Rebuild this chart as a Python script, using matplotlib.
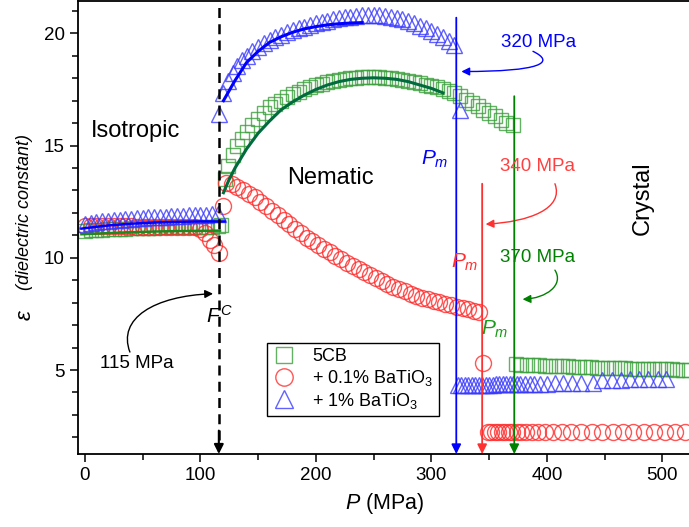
import matplotlib
matplotlib.use("Agg")
from matplotlib import pyplot as plt
from matplotlib.patches import FancyArrowPatch
from matplotlib.path import Path
from matplotlib.ticker import MultipleLocator
from matplotlib.lines import Line2D

plt.rcParams['font.family'] = ['Liberation Sans', 'DejaVu Sans']
plt.rcParams['mathtext.fontset'] = 'custom'
plt.rcParams['mathtext.rm'] = 'Liberation Sans'
plt.rcParams['mathtext.it'] = 'Liberation Sans:italic'

# 5CB (green squares)
p_5cb = [0, 5, 10, 15, 20, 25, 30, 35, 40, 45, 50, 55, 60, 65, 70, 75, 80, 85, 90, 95, 100, 105, 110, 115, 118,
         121, 124, 128, 132, 136, 140, 145, 150, 155, 160, 165, 170, 175, 180, 185, 190, 195, 200, 205, 210,
         215, 220, 225, 230, 235, 240, 245, 250, 255, 260, 265, 270, 275, 280, 285, 290, 295, 300, 305, 310,
         315, 320, 325, 330, 335, 340, 345, 350, 355, 360, 365, 371]
e_5cb = [11.20, 11.22, 11.24, 11.25, 11.27, 11.28, 11.29, 11.30, 11.31, 11.32, 11.33, 11.33, 11.34, 11.35,
         11.35, 11.36, 11.36, 11.37, 11.37, 11.38, 11.38, 11.38, 11.39, 11.40, 11.45,
         13.5, 14.1, 14.6, 15.0, 15.3, 15.6, 15.9, 16.2, 16.45, 16.7, 16.85, 17.0, 17.15, 17.3, 17.4, 17.5,
         17.6, 17.68, 17.75, 17.82, 17.88, 17.93, 17.97, 18.0, 18.02, 18.04, 18.05, 18.05, 18.04, 18.02, 18.0,
         17.97, 17.93, 17.88, 17.83, 17.78, 17.72, 17.66, 17.6, 17.52, 17.44, 17.35, 17.2, 17.05, 16.9, 16.75,
         16.6, 16.45, 16.3, 16.15, 16.0, 15.9]
p_5cb_cr = [373, 378, 383, 388, 393, 398, 403, 408, 413, 418, 423, 428, 433, 438, 443, 448, 453, 458, 463,
            468, 473, 478, 483, 488, 493, 498, 503, 508, 513, 518, 523]
e_5cb_cr = [5.25, 5.24, 5.23, 5.22, 5.21, 5.20, 5.19, 5.18, 5.17, 5.16, 5.15, 5.14, 5.13, 5.12, 5.11, 5.10,
            5.09, 5.08, 5.07, 5.07, 5.06, 5.06, 5.05, 5.05, 5.04, 5.04, 5.03, 5.03, 5.02, 5.02, 5.02]

# + 0.1% BaTiO3 (red circles)
p_01 = [0, 5, 10, 15, 20, 25, 30, 35, 40, 45, 50, 55, 60, 65, 70, 75, 80, 85, 90, 95, 100, 104, 108, 112, 116,
        120, 122, 127, 132, 137, 142, 147, 152, 157, 162, 167, 172, 177, 182, 187, 192, 197, 202, 207, 212,
        217, 222, 227, 232, 237, 242, 247, 252, 257, 262, 267, 272, 277, 282, 287, 292, 297, 302, 307, 312,
        317, 322, 327, 332, 337, 341]
e_01 = [11.42, 11.42, 11.41, 11.41, 11.41, 11.40, 11.40, 11.40, 11.40, 11.39, 11.39, 11.39, 11.39, 11.38,
        11.38, 11.38, 11.37, 11.37, 11.36, 11.35, 11.3, 11.1, 10.8, 10.55, 10.2,
        12.3, 13.35, 13.3, 13.15, 13.0, 12.85, 12.7, 12.5, 12.3, 12.1, 11.9, 11.7, 11.5, 11.3, 11.1, 10.9,
        10.75, 10.58, 10.4, 10.24, 10.08, 9.93, 9.78, 9.64, 9.5, 9.36, 9.22, 9.08, 8.95, 8.83, 8.71, 8.6,
        8.5, 8.4, 8.31, 8.23, 8.15, 8.08, 8.01, 7.94, 7.88, 7.82, 7.76, 7.7, 7.65, 7.6]
p_01_cr = [345, 349, 352, 355, 358, 361, 364, 367, 370, 374, 378, 382, 387, 392, 398, 405, 413, 421, 430, 439,
           448, 457, 466, 475, 484, 493, 502, 511, 520]
e_01_cr = [5.3, 2.25, 2.25, 2.25, 2.25, 2.25, 2.25, 2.25, 2.25, 2.25, 2.25, 2.25, 2.25, 2.25, 2.25, 2.25,
           2.25, 2.25, 2.25, 2.25, 2.25, 2.25, 2.25, 2.25, 2.25, 2.25, 2.25, 2.25, 2.25]

# + 1% BaTiO3 (blue triangles)
p_1 = [0, 5, 10, 15, 20, 25, 30, 35, 40, 45, 50, 55, 60, 65, 70, 75, 80, 85, 90, 95, 100, 105, 110, 115,
       116, 120, 124, 128, 132, 136, 140, 145, 150, 155, 160, 165, 170, 175, 180, 185, 190, 195, 200, 205,
       210, 215, 220, 225, 230, 235, 240, 245, 250, 255, 260, 265, 270, 275, 280, 285, 290, 295, 300, 305,
       310, 315, 320, 325]
e_1 = [11.50, 11.55, 11.59, 11.62, 11.65, 11.68, 11.70, 11.72, 11.74, 11.76, 11.78, 11.80, 11.81, 11.83,
       11.84, 11.85, 11.87, 11.88, 11.89, 11.90, 11.91, 11.92, 11.93, 11.95,
       16.4, 17.35, 17.9, 18.25, 18.55, 18.8, 19.0, 19.2, 19.4, 19.55, 19.7, 19.82, 19.94, 20.04, 20.13,
       20.22, 20.3, 20.37, 20.44, 20.5, 20.56, 20.62, 20.67, 20.71, 20.75, 20.78, 20.8, 20.82, 20.82, 20.8,
       20.77, 20.73, 20.68, 20.62, 20.54, 20.45, 20.35, 20.24, 20.12, 19.98, 19.84, 19.68, 19.5, 16.6]
p_1_cr = [323, 326, 329, 332, 335, 338, 341, 344, 347, 350, 353, 356, 359, 362, 365, 368, 371, 374, 377, 381,
          385, 389, 394, 400, 407, 414, 422, 430, 440, 448, 456, 464, 472, 480, 488, 496, 503]
e_1_cr = [4.33, 4.33, 4.33, 4.34, 4.34, 4.34, 4.34, 4.35, 4.35, 4.35, 4.35, 4.36, 4.36, 4.36, 4.36, 4.37,
          4.37, 4.37, 4.37, 4.38, 4.38, 4.38, 4.39, 4.39, 4.40, 4.40, 4.41, 4.41, 4.42, 4.55, 4.56, 4.57,
          4.58, 4.59, 4.60, 4.61, 4.62]

# fit curves
fit_5cb_iso_p = [-3, 20, 40, 60, 80, 100, 117]
fit_5cb_iso_e = [11.05, 11.1, 11.14, 11.17, 11.19, 11.2, 11.21]
fit_5cb_nem_p = [120, 125, 130, 140, 150, 160, 170, 180, 190, 200, 210, 220, 230, 240, 250, 260, 270, 280,
                 290, 300, 310]
fit_5cb_nem_e = [12.9, 13.5, 14.0, 14.85, 15.55, 16.1, 16.6, 16.95, 17.25, 17.5, 17.7, 17.85, 17.95, 18.0,
                 18.02, 18.0, 17.95, 17.85, 17.7, 17.55, 17.35]
fit_1_iso_p = [-3, 10, 20, 40, 60, 80, 100, 121]
fit_1_iso_e = [11.3, 11.38, 11.44, 11.52, 11.57, 11.6, 11.62, 11.62]
fit_1_nem_p = [120, 130, 140, 150, 160, 170, 180, 190, 200, 210, 220, 230, 240]
fit_1_nem_e = [17.0, 17.9, 18.7, 19.2, 19.6, 19.85, 20.05, 20.2, 20.3, 20.38, 20.43, 20.46, 20.48]

green_m = '#3c9f3c'
red_m = '#ff2a2a'
blue_m = '#3a3aff'

fig = plt.figure(figsize=(6.89, 5.27), dpi=100)
ax = fig.add_axes([0.113, 0.1385, 0.8897, 0.8595])

mk = dict(ls='none', mfc='none', mew=1.0, alpha=0.8)
ax.plot(p_5cb, e_5cb, 's', ms=10, mec=green_m, **mk)
ax.plot(p_5cb_cr, e_5cb_cr, 's', ms=10, mec=green_m, **mk)
ax.plot(p_01, e_01, 'o', ms=11.5, mec=red_m, **mk)
ax.plot(p_01_cr, e_01_cr, 'o', ms=11.5, mec=red_m, **mk)
ax.plot(p_1, e_1, '^', ms=12, mec=blue_m, **mk)
ax.plot(p_1_cr, e_1_cr, '^', ms=12, mec=blue_m, **mk)

ax.plot(fit_5cb_iso_p, fit_5cb_iso_e, color='#1d8a1d', lw=1.8)
ax.plot(fit_5cb_nem_p, fit_5cb_nem_e, color='#006b3c', lw=2.2)
ax.plot(fit_1_iso_p, fit_1_iso_e, color='#0000ff', lw=1.8)
ax.plot(fit_1_nem_p, fit_1_nem_e, color='#0000ff', lw=2.2)

ylo, yhi = 1.257, 21.44
ax.set_xlim(-6.06, 524.7)
ax.set_ylim(ylo, yhi)

# vertical markers
ax.plot([116, 116], [1.9, 21.2], color='k', lw=1.8, ls=(0, (4, 2.5)))
ax.annotate('', xy=(116, ylo), xytext=(116, 2.3),
            arrowprops=dict(arrowstyle='-|>', color='k', lw=1.5, mutation_scale=14, shrinkA=0, shrinkB=0))
for xv, ytop, c in [(321.6, 20.7, '#0000ff'), (344, 13.3, '#ff3030'), (371.8, 17.2, '#008000')]:
    ax.annotate('', xy=(xv, ylo), xytext=(xv, ytop),
                arrowprops=dict(arrowstyle='-|>', color=c, lw=1.3, mutation_scale=14, shrinkA=0, shrinkB=0))

# curved arrows
def curved(verts, color):
    path = Path(verts, [Path.MOVETO, Path.CURVE4, Path.CURVE4, Path.CURVE4])
    ax.add_patch(FancyArrowPatch(path=path, arrowstyle='-|>', color=color, lw=1.0, mutation_scale=12))

curved([(388, 19.2), (408, 18.7), (395, 18.3), (326, 18.3)], '#0000ff')
curved([(407, 13.3), (415, 12.2), (385, 11.6), (347, 11.5)], '#ff3030')
curved([(407, 9.45), (415, 8.8), (400, 8.2), (379, 8.15)], '#008000')
curved([(39, 5.8), (28, 7.3), (60, 8.3), (111, 8.4)], 'k')

# texts
ax.text(44, 15.65, 'Isotropic', fontsize=17, ha='center', va='center')
ax.text(175.5, 13.55, 'Nematic', fontsize=17, ha='left', va='center')
ax.text(483, 12.66, 'Crystal', fontsize=17, ha='center', va='center', rotation=90)
ax.text(393, 19.6, '320 MPa', fontsize=13.5, color='#0000ff', ha='center', va='center')
ax.text(392, 14.05, '340 MPa', fontsize=13.5, color='#ff4040', ha='center', va='center')
ax.text(392, 10.0, '370 MPa', fontsize=13.5, color='#008000', ha='center', va='center')
ax.text(45, 5.27, '115 MPa', fontsize=13.5, color='k', ha='center', va='center')
ax.text(116.5, 7.4, r'$F^C$', fontsize=15, ha='center', va='center')
ax.text(303, 14.4, r'$P_m$', fontsize=15, color='#0000ff', ha='center', va='center')
ax.text(329, 9.8, r'$P_m$', fontsize=15, color='#ff3030', ha='center', va='center')
ax.text(354.5, 6.8, r'$P_m$', fontsize=15, color='#1a9a1a', ha='center', va='center')

# axes styling
ax.xaxis.set_major_locator(MultipleLocator(100))
ax.xaxis.set_minor_locator(MultipleLocator(50))
ax.yaxis.set_major_locator(MultipleLocator(5))
ax.yaxis.set_minor_locator(MultipleLocator(1))
ax.tick_params(which='both', direction='out', width=1.1, labelsize=13.5)
ax.tick_params(which='major', length=6)
ax.tick_params(which='minor', length=4)
for s in ax.spines.values():
    s.set_linewidth(1.3)

ax.set_xlabel(r'$P$ (MPa)', fontsize=15.5, labelpad=5)
fig.text(0.036, 0.402, 'ε', fontsize=16, style='italic', rotation=90, ha='center', va='center')
fig.text(0.036, 0.598, '(dielectric constant)', fontsize=13, style='italic', rotation=90,
         ha='center', va='center')

handles = [Line2D([], [], ls='none', marker='s', ms=11, mfc='none', mec=green_m, mew=1.0, alpha=0.8),
           Line2D([], [], ls='none', marker='o', ms=12.5, mfc='none', mec=red_m, mew=1.0, alpha=0.8),
           Line2D([], [], ls='none', marker='^', ms=13, mfc='none', mec=blue_m, mew=1.0, alpha=0.8)]
labels = ['5CB', '+ 0.1% BaTiO$_3$', '+ 1% BaTiO$_3$']
leg = ax.legend(handles, labels, loc='lower left', bbox_to_anchor=(0.309, 0.084), borderaxespad=0,
                fontsize=13, frameon=True, fancybox=False, edgecolor='k', framealpha=1,
                handlelength=1.2, handletextpad=1.0, labelspacing=0.15, borderpad=0.3)
leg.get_frame().set_linewidth(1.0)

fig.savefig('out.png', dpi=100)
